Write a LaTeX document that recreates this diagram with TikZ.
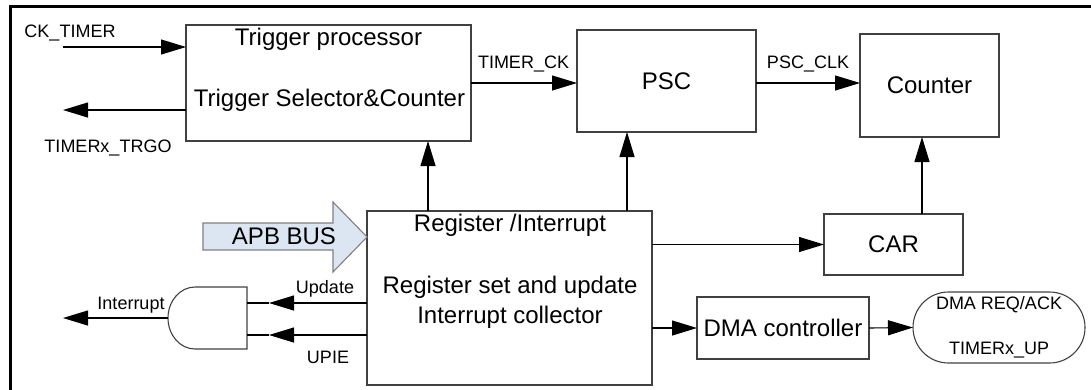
\documentclass[tikz,border=0pt]{standalone}
\usepackage{fontspec}
\setmainfont{Liberation Sans}
\usetikzlibrary{arrows.meta,shapes.misc}
\definecolor{busfill}{RGB}{220,230,242}

\begin{document}
\begin{tikzpicture}[x=1pt, y=-1pt, line width=1.1pt,
	arr/.style={-{Triangle[length=25pt,width=15pt]}},
	blk/.style={draw=black!75, outer sep=0pt, inner sep=0pt},
	big/.style={font=\fontsize{24}{29}\selectfont, inner sep=0pt},
	sml/.style={font=\fontsize{18}{21.6}\selectfont, inner sep=0pt}]
	
	\useasboundingbox (0,0) rectangle (1091,389);
	
	% Frame (cut at right and bottom)
	\draw[line width=3pt] (10,400) -- (10,6.5) -- (1100,6.5);
	
	% -----------------------------
	% Blocks
	% -----------------------------
	\node[blk, minimum width=285pt, minimum height=116pt] (trig) at (328.5,83) {};
	\node[big] (trigA) at (328.5,39) {Trigger processor};
	\node[big] (trigB) at (329.5,100) {Trigger Selector\&Counter};
	
	\node[blk, big, minimum width=179pt, minimum height=102pt] (psc) at (666.5,81) {PSC};
	\node[blk, big, minimum width=139pt, minimum height=103pt] (cnt) at (929.5,85.5) {Counter};
	\node[blk, big, minimum width=139pt, minimum height=61pt] (car) at (893.5,244.5) {CAR};
	
	\node[blk, minimum width=285pt, minimum height=174pt] (reg) at (509.5,298) {};
	\node[big] (regA) at (510,225) {Register /Interrupt};
	\node[big, align=center, font=\fontsize{24}{30}\selectfont] (regB) at (510,302)
		{Register set and update\\Interrupt collector};
	
	\node[blk, big, minimum width=172pt, minimum height=62pt] (dma) at (783,328) {DMA controller};
	\node[blk, sml, rounded rectangle, minimum width=172pt, minimum height=71pt,
		align=center] (req) at (999,327.5) {DMA REQ/ACK\\[23pt]TIMERx\_UP};
	
	% AND gate
	\draw[draw=black!75] (247,287) -- (195,287)
		arc[start angle=270, end angle=90, x radius=27, y radius=31]
		-- (247,349) -- cycle;
	\coordinate (gout) at (168,318);
	\coordinate (gin1) at (247,303);
	\coordinate (gin2) at (247,335);
	
	% APB bus arrow
	\filldraw[fill=busfill, draw=black!50] (203,223) -- (333,223) -- (333,202)
		-- (367,237) -- (333,272) -- (333,250) -- (203,250) -- cycle;
	\node[big] (apb) at (284,236) {APB BUS};
	
	% -----------------------------
	% Connectors
	% -----------------------------
	\coordinate (ck) at (63,47);
	\coordinate (trgo) at (63,110);
	\coordinate (intr) at (63,318);
	\coordinate (xtr) at (428,0);
	\coordinate (xps) at (627,0);
	\coordinate (xcn) at (922,0);
	
	\draw[arr] (ck) -- (ck -| trig.west);
	\draw[arr] (trgo -| trig.west) -- (trgo);
	\draw[arr] (trig.east) -- (trig.east -| psc.west);
	\draw[arr] (trig.east -| psc.east) -- (trig.east -| cnt.west);
	
	\draw[arr] (reg.north -| xtr) -- (trig.south -| xtr);
	\draw[arr] (reg.north -| xps) -- (psc.south -| xps);
	\draw[arr] (car.north -| xcn) -- (cnt.south -| xcn);
	\draw[arr] (car.west -| reg.east) -- (car.west);
	\draw[arr] (dma.west -| reg.east) -- (dma.west);
	\draw[arr] (dma.east) -- (req.west);
	
	\draw[arr] (gin1 -| reg.west) -- ([xshift=22pt]gin1);
	\draw ([xshift=22pt]gin1) -- (gin1);
	\draw[arr] (gin2 -| reg.west) -- ([xshift=22pt]gin2);
	\draw ([xshift=22pt]gin2) -- (gin2);
	\draw[arr] (gout) -- (intr);
	
	% Labels
	\node[sml] (lck) at (70,33) {CK\_TIMER};
	\node[sml] (ltrgo) at (108,148) {TIMERx\_TRGO};
	\node[sml] (ltck) at (523.5,64) {TIMER\_CK};
	\node[sml] (lpsc) at (808,64) {PSC\_CLK};
	\node[sml] (lint) at (131,305) {Interrupt};
	\node[sml] (lupd) at (325,289) {Update};
	\node[sml] (lupie) at (328,357) {UPIE};
	
\end{tikzpicture}
\end{document}
